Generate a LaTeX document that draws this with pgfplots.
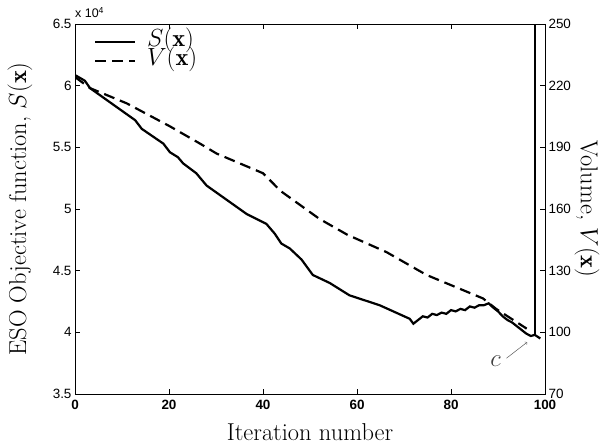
\documentclass[border=0pt]{standalone}
\usepackage{fontspec}
\setsansfont{Liberation Sans}
\usepackage{pgfplots}
\pgfplotsset{compat=1.18}

\tikzset{
  sline/.style={black, line width=2.2bp},
  vline/.style={black, line width=2.2bp, dash pattern=on 11bp off 6bp},
  biglabel/.style={font=\fontsize{24.5}{26}\selectfont},
}
\pgfplotsset{
  common/.style={
    scale only axis, width=470bp, height=370bp,
    xmin=0, xmax=100,
    tick align=inside,
    major tick length=5bp,
    axis line style={line width=0.9pt},
    every tick/.style={black, line width=0.7pt},
    /pgf/number format/assume math mode=true,
    every tick label/.append style={font=\sffamily\fontsize{13.5}{15}\selectfont},
    clip mode=individual,
  },
}

\begin{document}
\begin{tikzpicture}
  \begin{axis}[
      common,
      name=main,
      ymin=3.5, ymax=6.5,
      xtick={0,20,...,100},
      ytick={3.5,4,...,6.5},
      xtick pos=both, ytick pos=left,
      scaled y ticks=false,
      xticklabel style={font=\sffamily\bfseries\fontsize{13.5}{15}\selectfont, yshift=-3bp},
      xlabel={Iteration number},
      every axis x label/.style={at={([yshift=-46bp]rel axis cs:0.5,0)}, anchor=base, biglabel},
      ylabel={ESO Objective function, $S(\mathbf{x})$},
      every axis y label/.style={at={([xshift=-55bp]rel axis cs:0,0.5)}, anchor=center, rotate=90, biglabel},
      legend style={at={([yshift=-3bp]rel axis cs:0.04,0.985)}, anchor=north west, draw=none, fill=none,
        font=\fontsize{24.5}{26}\selectfont, inner sep=0pt, column sep=10bp, row sep=0bp,
        nodes={inner sep=1bp, text height=13bp, text depth=4bp}},
      legend cell align=left,
      legend image code/.code={\draw[#1] (0bp,0bp) -- (40bp,0bp);},
    ]
    % objective function S(x), in units of 10^4
    \addplot[sline] coordinates {
      (0,6.086) (2.1,6.04) (3.2,5.98) (12.8,5.72) (14.2,5.65) (18.8,5.53)
      (20.2,5.46) (21.9,5.42) (23.0,5.37) (25.8,5.29) (28.0,5.19) (36.5,4.96)
      (40.7,4.88) (42.5,4.80) (43.9,4.72) (45.7,4.68) (48.2,4.59) (50.6,4.465)
      (54.2,4.40) (58.4,4.30) (64.8,4.22) (71.2,4.11) (72,4.07) (73,4.10)
      (74,4.13) (75,4.12) (76,4.15) (77,4.14) (78,4.16) (79,4.15) (80,4.18)
      (81,4.17) (82,4.19) (83,4.18) (84,4.21) (85,4.20) (86,4.22) (87,4.22)
      (88,4.235) (89,4.20) (90,4.17) (91,4.13) (92,4.10) (93,4.08) (94,4.05)
      (95,4.02) (96,3.99) (97,3.97) (97.8,3.98) (99,3.95)
    };
    \addlegendentry{$S(\mathbf{x})$}
    \addlegendimage{vline}
    \addlegendentry{$V(\mathbf{x})$}
    % jump at the last iterations
    \addplot[sline, forget plot] coordinates {(97.8,3.98) (97.8,6.5)};
    % annotation c
    \draw[->, gray!70!black, line width=0.5pt] (axis cs:91.8,3.79) -- (axis cs:96.2,3.92);
    \node[text=black!75, biglabel] at (axis cs:89.5,3.765) {$c$};
    \node[anchor=base west, inner sep=0pt, font=\sffamily\fontsize{12.5}{13}\selectfont]
      at ([yshift=6bp]rel axis cs:0,1) {x 10\textsuperscript{4}};
  \end{axis}
  \begin{axis}[
      common,
      ymin=70, ymax=250,
      ytick={70,100,...,250},
      hide x axis,
      axis y line*=right,
      ylabel={Volume, $V(\mathbf{x})$},
      every axis y label/.style={at={([xshift=42bp]rel axis cs:1,0.5)}, anchor=center, rotate=-90, biglabel},
    ]
    % volume V(x)
    \addplot[vline] coordinates {
      (0,224.2) (3.2,218.8) (11,211.4) (20.2,200.2) (26.6,191.8) (30.1,187.0)
      (40,177.4) (42.1,172.6) (43.6,169.0) (52,155.2) (58,147.4) (66.3,139.0)
      (74.8,127.9) (86.8,116.5) (89.6,111.4) (96.1,101.8)
    };
  \end{axis}
  % keep the white margins of the reference
  \path (main.south west) +(-75bp,-53bp) (main.north east) +(67bp,24bp);
\end{tikzpicture}
\end{document}
